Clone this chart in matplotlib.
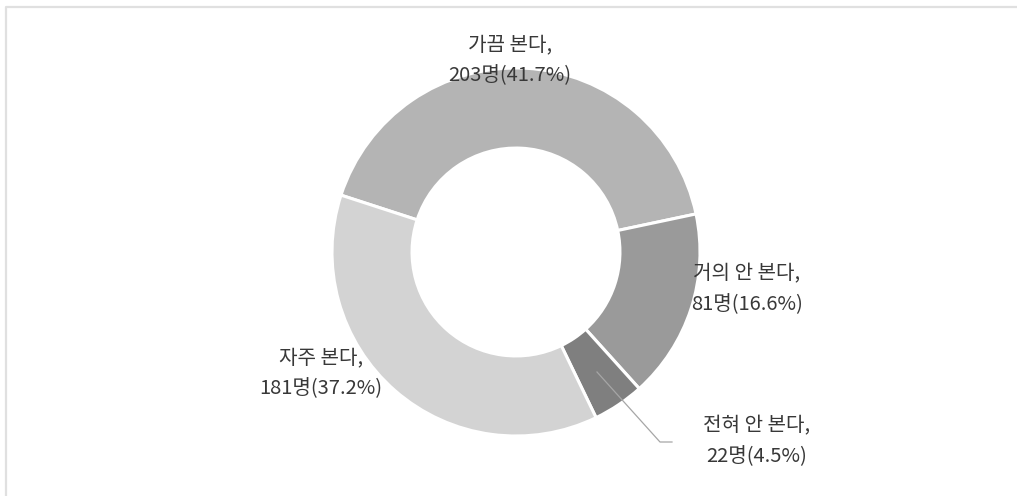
import matplotlib.pyplot as plt
from matplotlib.lines import Line2D

plt.rcParams["font.family"] = ["Noto Sans CJK KR", "DejaVu Sans"]

# data, in clockwise drawing order
categories = ["가끔 본다", "거의 안 본다", "전혀 안 본다", "자주 본다"]
counts = [203, 81, 22, 181]
percents = [41.7, 16.6, 4.5, 37.2]
colors = ["#b4b4b4", "#9a9a9a", "#7f7f7f", "#d3d3d3"]

W, H = 1017, 496
fig = plt.figure(figsize=(W / 100, H / 100), dpi=100)

# donut centre (516, 252) px, outer radius 184 px
cx, cy, R = 516, 252, 184
ax = fig.add_axes([(cx - R) / W, (H - cy - R) / H, 2 * R / W, 2 * R / H])
wedges, _ = ax.pie(
    counts,
    startangle=162,
    counterclock=False,
    colors=colors,
    radius=1.0,
    wedgeprops=dict(width=0.435, edgecolor="white", linewidth=2.2),
)
ax.set_xlim(-1, 1)
ax.set_ylim(-1, 1)
ax.set_aspect("equal")
ax.axis("off")

labels = [f"{c},\n{n}명({p}%)" for c, n, p in zip(categories, counts, percents)]
label_px = [(510, 60), (747, 289), (757, 441), (321, 373)]
for text, (px, py) in zip(labels, label_px):
    fig.text(px / W, 1 - py / H, text, ha="center", va="center",
             fontsize=14.5, color="#383838", linespacing=1.6)

# leader line for the small slice
lx = [597, 660, 672]
ly = [372, 442, 442]
fig.add_artist(Line2D([x / W for x in lx], [1 - y / H for y in ly],
                      color="#a6a6a6", linewidth=0.9))

# light frame on the top and left
fig.add_artist(Line2D([6 / W, 6 / W, 1], [0, 1 - 6.5 / H, 1 - 6.5 / H],
                      color="#e0e0e0", linewidth=1.6))

fig.savefig("out.png", dpi=100, facecolor="white")
